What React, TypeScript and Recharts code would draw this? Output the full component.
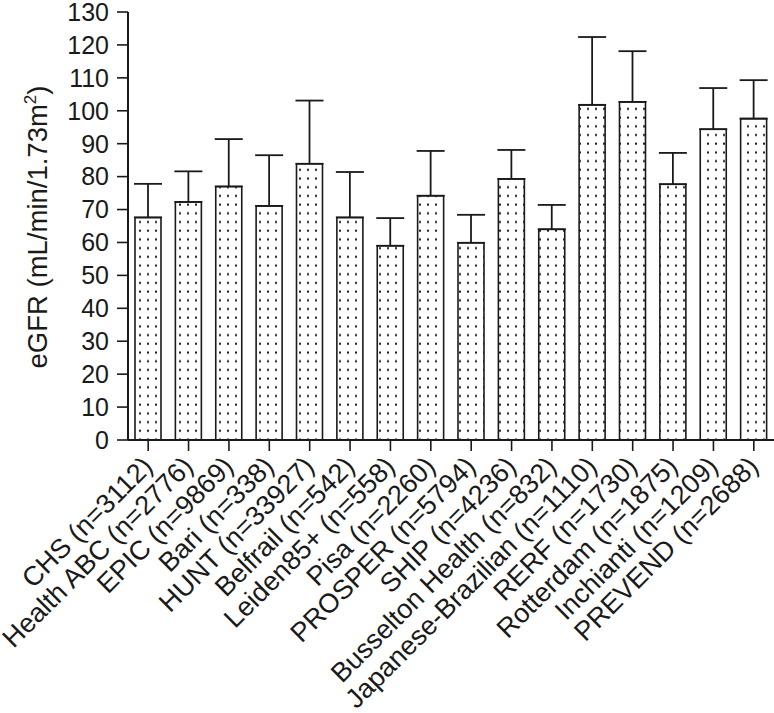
import { BarChart, Bar, XAxis, YAxis, ErrorBar, Label } from 'recharts'

const cohorts = [
  'CHS (n=3112)',
  'Health ABC (n=2776)',
  'EPIC (n=9869)',
  'Bari (n=338)',
  'HUNT (n=33927)',
  'Belfrail (n=542)',
  'Leiden85+ (n=558)',
  'Pisa (n=2260)',
  'PROSPER (n=5794)',
  'SHIP (n=4236)',
  'Busselton Health (n=832)',
  'Japanese-Brazilian (n=1110)',
  'RERF (n=1730)',
  'Rotterdam (n=1875)',
  'Inchianti (n=1209)',
  'PREVEND (n=2688)',
]

// mean eGFR per cohort
const meanEgfr = [67.6, 72.3, 77.0, 71.1, 83.9, 67.6, 59.0, 74.2, 59.9, 79.3, 64.0, 101.8, 102.7, 77.7, 94.4, 97.6]
// top of the error whisker (mean + SD)
const upperEgfr = [77.8, 81.6, 91.4, 86.5, 103.1, 81.4, 67.4, 87.8, 68.4, 88.1, 71.4, 122.4, 118.1, 87.2, 106.9, 109.3]

const yTicks = [0, 10, 20, 30, 40, 50, 60, 70, 80, 90, 100, 110, 120, 130]

const data = cohorts.map((name, i) => ({
  name,
  egfr: meanEgfr[i],
  sd: [0, +(upperEgfr[i] - meanEgfr[i]).toFixed(1)],
}))

const FONT = '"Liberation Sans", Arial, sans-serif'
const INK = '#1a1a1a'

const XTick = ({ x, y, payload }: any) => (
  <g transform={`translate(${x + 6},${y + 17})`}>
    <text x={0} y={0} textAnchor="end" transform="rotate(-45)" fontSize={27} fontFamily={FONT} fill={INK}>
      {payload.value}
    </text>
  </g>
)

const YTitle = () => (
  <text
    x={47}
    y={227}
    transform="rotate(-90, 47, 227)"
    textAnchor="middle"
    fontSize={27.5}
    fontFamily={FONT}
    fill={INK}
  >
    eGFR (mL/min/1.73m
    <tspan dy={-11} fontSize={17}>2</tspan>
    <tspan dy={11}>)</tspan>
  </text>
)

export default function App() {
  return (
    <div style={{ position: 'absolute', left: 0, top: 0, background: '#fff' }}>
      <svg width={0} height={0} style={{ position: 'absolute' }}>
        <defs>
          <pattern id="dots" width={8} height={8.7} patternUnits="userSpaceOnUse">
            <rect x={3} y={3.5} width={2} height={2} fill="#1a1a1a" />
          </pattern>
        </defs>
      </svg>
      <BarChart width={774} height={713} data={data} margin={{ top: 12, right: 0, left: 0, bottom: 0 }} barSize={26}>
        <XAxis
          dataKey="name"
          interval={0}
          height={273}
          tick={<XTick />}
          tickSize={11}
          tickMargin={0}
          axisLine={{ stroke: INK, strokeWidth: 2 }}
          tickLine={{ stroke: INK, strokeWidth: 1.6 }}
        />
        <YAxis
          width={128}
          domain={[0, 130]}
          ticks={yTicks}
          interval={0}
          tickSize={11}
          tickMargin={8}
          tick={{ fontSize: 25, fontFamily: FONT, fill: INK }}
          axisLine={{ stroke: INK, strokeWidth: 2 }}
          tickLine={{ stroke: INK, strokeWidth: 1.6 }}
        >
          <Label content={<YTitle />} />
        </YAxis>
        <Bar dataKey="egfr" fill="url(#dots)" stroke={INK} strokeWidth={1.6} isAnimationActive={false}>
          <ErrorBar dataKey="sd" width={14} stroke={INK} strokeWidth={1.8} direction="y" isAnimationActive={false} />
        </Bar>
      </BarChart>
    </div>
  )
}
